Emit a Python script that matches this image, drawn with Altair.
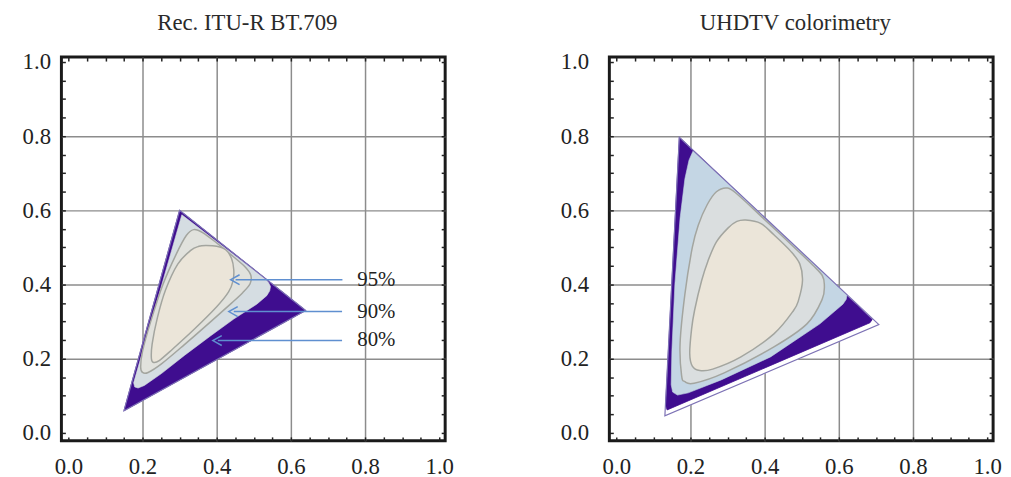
import altair as alt
import pandas as pd

# ---------------- data ----------------
MAJOR = [0.0, 0.2, 0.4, 0.6, 0.8, 1.0]
MINOR = [0.0, 0.05, 0.1, 0.15, 0.2, 0.25, 0.3, 0.35, 0.4, 0.45, 0.5,
         0.55, 0.6, 0.65, 0.7, 0.75, 0.8, 0.85, 0.9, 0.95, 1.0]

# Rec. ITU-R BT.709 panel
L_tri_x = [0.64, 0.30, 0.15]
L_tri_y = [0.33, 0.60, 0.06]
L_light_x = [0.306, 0.530, 0.540, 0.545, 0.543, 0.535, 0.508, 0.446, 0.384, 0.313, 0.251, 0.205, 0.188, 0.179, 0.176]
L_light_y = [0.588, 0.416, 0.405, 0.395, 0.383, 0.370, 0.347, 0.307, 0.262, 0.209, 0.160, 0.128, 0.121, 0.124, 0.135]
L_c90_x = [0.338, 0.362, 0.400, 0.445, 0.478, 0.492, 0.490, 0.470, 0.440, 0.384, 0.313, 0.251, 0.215, 0.200, 0.195, 0.200, 0.222, 0.255, 0.290, 0.318]
L_c90_y = [0.548, 0.540, 0.512, 0.475, 0.446, 0.425, 0.402, 0.378, 0.350, 0.300, 0.238, 0.186, 0.163, 0.163, 0.178, 0.220, 0.300, 0.400, 0.480, 0.532]
L_c80_x = [0.372, 0.400, 0.425, 0.440, 0.446, 0.444, 0.432, 0.400, 0.340, 0.280, 0.245, 0.230, 0.224, 0.226, 0.240, 0.262, 0.295, 0.330, 0.352]
L_c80_y = [0.505, 0.503, 0.493, 0.470, 0.440, 0.410, 0.380, 0.340, 0.280, 0.225, 0.195, 0.190, 0.200, 0.240, 0.310, 0.385, 0.455, 0.492, 0.503]

ARROW_LABELS = ["95%", "90%", "80%"]
ARROW_Y = [0.413, 0.327, 0.249]
ARROW_START = [0.739, 0.738, 0.738]
ARROW_TIP = [0.451, 0.446, 0.403]
LABEL_X = [0.779, 0.779, 0.779]

# UHDTV colorimetry panel
R_tri_x = [0.708, 0.170, 0.131]
R_tri_y = [0.292, 0.797, 0.046]
R_purple_x = [0.170, 0.690, 0.684, 0.137, 0.133]
R_purple_y = [0.797, 0.306, 0.297, 0.062, 0.075]
R_light_x = [0.207, 0.612, 0.622, 0.620, 0.611, 0.549, 0.416, 0.283, 0.194, 0.165, 0.152, 0.148, 0.150, 0.158, 0.172, 0.185, 0.196]
R_light_y = [0.760, 0.381, 0.372, 0.360, 0.347, 0.294, 0.205, 0.143, 0.108, 0.102, 0.110, 0.130, 0.223, 0.401, 0.579, 0.685, 0.735]
R_c90_x = [0.300, 0.330, 0.400, 0.480, 0.530, 0.555, 0.561, 0.555, 0.514, 0.425, 0.291, 0.210, 0.185, 0.176, 0.172, 0.185, 0.205, 0.221, 0.245, 0.270]
R_c90_y = [0.660, 0.640, 0.575, 0.500, 0.452, 0.425, 0.400, 0.360, 0.294, 0.232, 0.162, 0.134, 0.138, 0.155, 0.241, 0.374, 0.500, 0.560, 0.615, 0.650]
R_c80_x = [0.349, 0.389, 0.425, 0.470, 0.495, 0.502, 0.492, 0.478, 0.425, 0.336, 0.260, 0.225, 0.205, 0.198, 0.203, 0.211, 0.230, 0.247, 0.270, 0.301, 0.325]
R_c80_y = [0.574, 0.565, 0.534, 0.490, 0.455, 0.410, 0.360, 0.330, 0.267, 0.205, 0.172, 0.168, 0.180, 0.214, 0.280, 0.330, 0.410, 0.463, 0.515, 0.552, 0.570]

# ---------------- style ----------------
SERIF = "Liberation Serif"
PURPLE = "#3f0d8f"
OUTLINE = "#7d72b5"
CONTOUR = "#a3a59f"
BEIGE = "#ebe5d9"
ARROW = "#5f8fd0"
W = 388
H = 388
XDOM = [-0.0187, 1.016]
YDOM = [-0.0213, 1.013]


def poly(xs, ys):
    return pd.DataFrame({"x": xs, "y": ys, "i": list(range(len(xs)))})


def main_axes(label_pad_y):
    grid_op = {"condition": {"test": "datum.value == 0 || datum.value == 1", "value": 0}, "value": 1}
    common = dict(values=MAJOR, format=".1f", grid=True, gridColor="#8c8c8c", gridWidth=1.5,
                  gridOpacity=grid_op, ticks=False, domain=False, labelFont=SERIF,
                  labelFontSize=23, labelColor="#222222", labelFlush=False,
                  labelOverlap=False, title=None)
    ax = alt.Axis(orient="bottom", labelPadding=15, **common)
    ay = alt.Axis(orient="left", labelPadding=label_pad_y, **common)
    return ax, ay


def minor_axis(orient):
    return alt.Axis(orient=orient, values=MINOR, labels=False, domain=False, grid=False,
                    ticks=True, tickSize=4, tickWidth=1.5, tickColor="#222222",
                    offset=-4, title=None)


def shape_layer(df, fill, stroke, sw, interp, xaxis=None, yaxis=None):
    xs = alt.Scale(domain=XDOM, nice=False, zero=False)
    ys = alt.Scale(domain=YDOM, nice=False, zero=False)
    return alt.Chart(df).mark_line(interpolate=interp, fill=fill, stroke=stroke,
                                   strokeWidth=sw).encode(
        x=alt.X("x:Q", scale=xs, axis=xaxis),
        y=alt.Y("y:Q", scale=ys, axis=yaxis),
        order=alt.Order("i:Q"),
    )


def panel(title, tri, purple, light, light_col, c90, c90_col, c80, label_pad_y, arrows=False):
    ax, ay = main_axes(label_pad_y)
    layers = [
        shape_layer(poly(*tri), "#ffffff", "#ffffff", 0.5, "linear-closed", ax, ay),
        shape_layer(poly(*purple), PURPLE, PURPLE, 0.8, "linear-closed",
                    minor_axis("top"), minor_axis("right")),
        shape_layer(poly(*light), light_col, light_col, 0.6, "linear-closed",
                    minor_axis("bottom"), minor_axis("left")),
        shape_layer(poly(*c90), c90_col, CONTOUR, 1.5, "cardinal-closed"),
        shape_layer(poly(*c80), BEIGE, CONTOUR, 1.5, "cardinal-closed"),
        alt.Chart(poly(*tri)).mark_line(interpolate="linear-closed", stroke=OUTLINE,
                                        strokeWidth=1.2).encode(
            x=alt.X("x:Q", scale=alt.Scale(domain=XDOM, nice=False, zero=False), axis=None),
            y=alt.Y("y:Q", scale=alt.Scale(domain=YDOM, nice=False, zero=False), axis=None),
            order=alt.Order("i:Q"),
        ),
    ]
    if arrows:
        adf = pd.DataFrame({"label": ARROW_LABELS, "y": ARROW_Y, "x0": ARROW_START,
                            "x1": ARROW_TIP, "lx": LABEL_X})
        xs = alt.Scale(domain=XDOM, nice=False, zero=False)
        ys = alt.Scale(domain=YDOM, nice=False, zero=False)
        rules = alt.Chart(adf).mark_rule(color=ARROW, strokeWidth=1.5).encode(
            x=alt.X("x0:Q", scale=xs, axis=None), x2="x1:Q",
            y=alt.Y("y:Q", scale=ys, axis=None))
        heads = alt.Chart(adf).mark_point(shape="M0.8,-1L-1,0L0.8,1", filled=False, size=100,
                                          strokeWidth=1.5, color=ARROW, opacity=1).encode(
            x=alt.X("x1:Q", scale=xs, axis=None), y=alt.Y("y:Q", scale=ys, axis=None))
        texts = alt.Chart(adf).mark_text(align="left", baseline="middle", font=SERIF,
                                         fontSize=21, color="#222222").encode(
            x=alt.X("lx:Q", scale=xs, axis=None), y=alt.Y("y:Q", scale=ys, axis=None),
            text="label:N")
        layers += [rules, heads, texts]
    return alt.layer(*layers).resolve_axis(x="independent", y="independent").properties(
        width=W, height=H,
        title=alt.Title(text=title, font=SERIF, fontSize=23, fontWeight="normal",
                        color="#2a2a2a", frame="group", anchor="middle", offset=-2,
                        dx=-6, baseline="alphabetic"),
    )


left = panel("Rec. ITU-R BT.709", (L_tri_x, L_tri_y), (L_tri_x, L_tri_y),
             (L_light_x, L_light_y), "#d5dde2", (L_c90_x, L_c90_y), "#e1e2dd",
             (L_c80_x, L_c80_y), 11, arrows=True)
right = panel("UHDTV colorimetry", (R_tri_x, R_tri_y), (R_purple_x, R_purple_y),
              (R_light_x, R_light_y), "#c4d6e4", (R_c90_x, R_c90_y), "#dadedf",
              (R_c80_x, R_c80_y), 21)

chart = alt.hconcat(left, right, spacing=104).configure_view(
    stroke="#1a1a1a", strokeWidth=3
).properties(padding={"left": 12, "right": 0, "top": 0, "bottom": 0}, background="white")

chart.save("out.html", embed_options={"renderer": "svg", "actions": False})
